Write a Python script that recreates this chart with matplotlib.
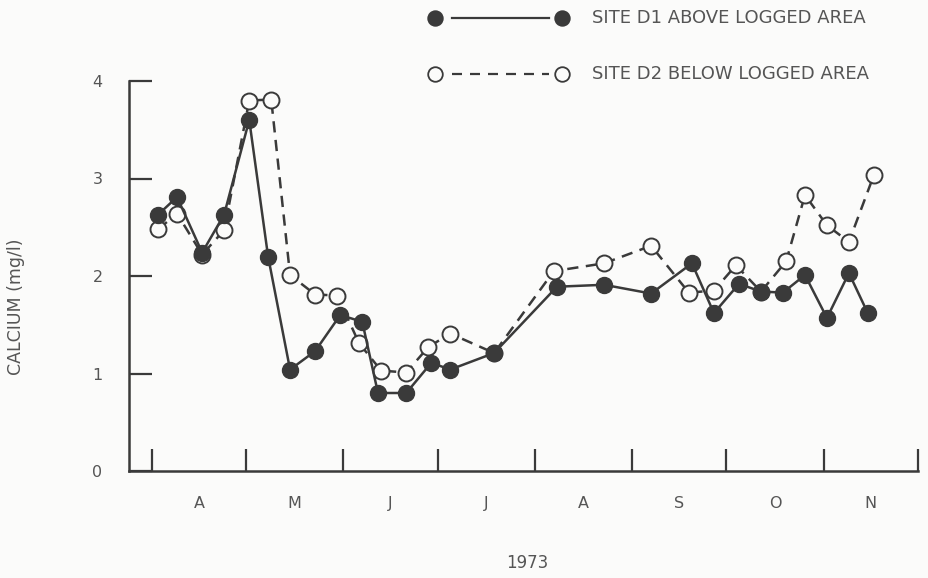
import matplotlib
matplotlib.use("Agg")
import matplotlib.pyplot as plt
from matplotlib.lines import Line2D

plt.rcParams['font.family'] = ['DejaVu Sans']

# Sampling days counted from 1 April 1973
d1_days = [2, 8, 16, 23, 31, 37, 44, 52, 60, 67, 72, 81, 89, 95, 109, 129,
           144, 159, 172, 179, 187, 194, 201, 208, 215, 222, 228]
d1_ca = [2.63, 2.81, 2.24, 2.63, 3.60, 2.20, 1.04, 1.23, 1.60, 1.53, 0.80,
         0.80, 1.11, 1.04, 1.21, 1.89, 1.91, 1.82, 2.13, 1.62, 1.92, 1.84,
         1.83, 2.01, 1.57, 2.03, 1.62]

d2_days = [2, 8, 16, 23, 31, 38, 44, 52, 59, 66, 73, 81, 88, 95, 109, 128,
           144, 159, 171, 179, 186, 194, 202, 208, 215, 222, 230]
d2_ca = [2.48, 2.64, 2.22, 2.47, 3.80, 3.81, 2.01, 1.81, 1.80, 1.31, 1.03,
         1.01, 1.27, 1.41, 1.21, 2.05, 2.13, 2.31, 1.83, 1.85, 2.11, 1.84,
         2.15, 2.83, 2.52, 2.35, 3.04]

month_starts = [0, 30, 61, 91, 122, 153, 183, 214, 244]
month_mids = [15, 45.5, 76, 106.5, 137.5, 168, 198.5, 229]
month_labels = ['A', 'M', 'J', 'J', 'A', 'S', 'O', 'N']
y_ticks = [0, 1, 2, 3, 4]

ink = '#3a3a3a'
txt = '#555555'
bg = '#fbfbfa'
dash = (0, (4.5, 3.0))

W, H = 929, 578
fig = plt.figure(figsize=(W / 100, H / 100), dpi=100, facecolor=bg)
ax = fig.add_axes([129 / W, (H - 471) / H, (918 - 129) / W, (471 - 81) / H])
ax.set_facecolor(bg)

ms = 11.5
ax.plot(d2_days, d2_ca, color=ink, lw=1.8, ls=dash, marker='o',
        ms=ms, mfc=bg, mec=ink, mew=1.4, zorder=3)
ax.plot(d1_days, d1_ca, color=ink, lw=1.8, ls='-', marker='o',
        ms=ms, mfc=ink, mec=ink, mew=1.0, zorder=4)

ax.set_xlim(-7.3, 244)
ax.set_ylim(0, 4)
for s in ['top', 'right']:
    ax.spines[s].set_visible(False)
for s in ['left', 'bottom']:
    ax.spines[s].set_color(ink)
    ax.spines[s].set_linewidth(1.8)

ax.set_yticks(y_ticks)
ax.set_yticklabels([str(v) for v in y_ticks])
ax.tick_params(axis='y', direction='in', length=16.5, width=1.6, color=ink,
               pad=19, labelsize=11.5, labelcolor=txt)
ax.set_xticks(month_starts)
ax.set_xticklabels([])
ax.tick_params(axis='x', which='major', direction='in', length=16, width=1.6,
               color=ink)
ax.set_xticks(month_mids, minor=True)
ax.set_xticklabels(month_labels, minor=True)
ax.tick_params(axis='x', which='minor', length=0, pad=18, labelsize=11.5,
               labelcolor=txt)

fig.text(527 / W, 1 - 563 / H, '1973', ha='center', va='center',
         fontsize=12, color=txt)
fig.text(16 / W, 1 - 307 / H, 'CALCIUM (mg/l)', ha='center', va='center',
         rotation=90, fontsize=12.5, color=txt)


def px(x, y):
    return x / W, 1 - y / H


# Key in the upper right corner
for (yk, style, face, label) in [
        (18, '-', ink, 'SITE D1 ABOVE LOGGED AREA'),
        (74, (0, (4.5, 3.6)), bg, 'SITE D2 BELOW LOGGED AREA')]:
    x0, y0 = px(452, yk)
    x1, _ = px(549, yk)
    fig.add_artist(Line2D([x0, x1], [y0, y0], transform=fig.transFigure,
                          color=ink, lw=1.6, ls=style))
    for xm in (435, 562):
        xa, ya = px(xm, yk)
        fig.add_artist(Line2D([xa], [ya], transform=fig.transFigure,
                              marker='o', ms=10.5, mfc=face, mec=ink,
                              mew=1.3, ls='none'))
    xt, yt = px(592, yk)
    fig.text(xt, yt, label, ha='left', va='center', fontsize=13,
             color=txt)

fig.savefig('out.png', dpi=100, facecolor=bg)
